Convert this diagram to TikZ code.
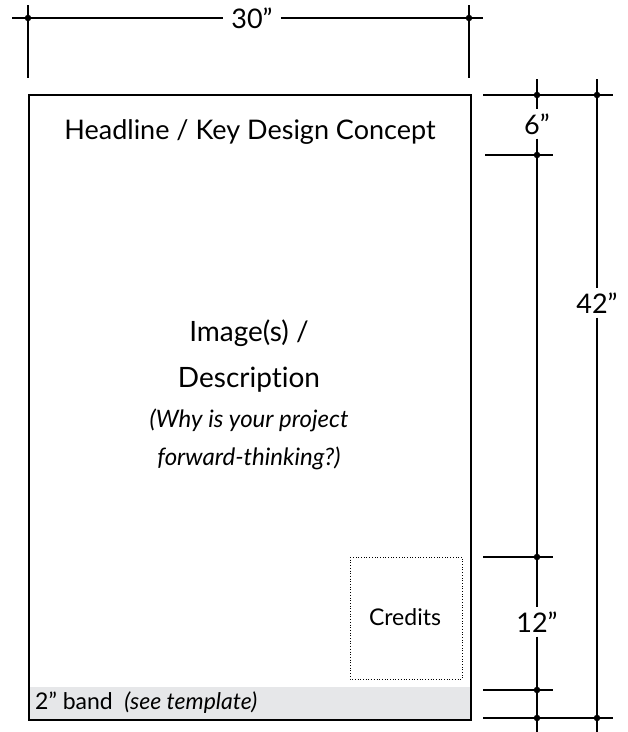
\documentclass[tikz,border=0pt]{standalone}
\usepackage{fontspec}
\setmainfont{Lato}[Ligatures={TeX,NoCommon}]
\usepackage{tikz}
\usetikzlibrary{calc}

\definecolor{bandgray}{RGB}{230,231,233}

\tikzset{
	dimline/.style={line width=1.3pt},
	dimdot/.style={circle,fill=black,inner sep=0pt,minimum size=6.5pt},
	dimlabel/.style={font=\fontsize{27}{27}\selectfont,inner xsep=8pt,inner ysep=4pt,fill=white},
	postertext/.style={font=\fontsize{#1}{#1}\selectfont,inner sep=0pt},
}

\begin{document}
\begin{tikzpicture}[x=1pt,y=-1pt]
		\useasboundingbox (0,0) rectangle (628,732);
		
		% poster sheet
		\fill[bandgray] (29,687) rectangle (471,720);
		\draw[line width=2pt] (29,95) rectangle (471,720);
		\draw[dotted,line width=0.7pt] (350,557) rectangle (462,679);
		
		\node[postertext=27] (head) at (250,132) {Headline / Key Design Concept};
		\node[postertext=28] (img) at (249,333) {Image(s) /};
		\node[postertext=28] (desc) at (249,380) {Description};
		\node[postertext=24] (why) at (249,420) {\itshape (Why is your project};
		\node[postertext=24] (fwd) at (249,458) {\itshape forward-thinking?)};
		\node[postertext=23] (cred) at (405,617) {Credits};
		\node[postertext=23,anchor=west] (band) at (35,703) {2'' band\enspace\itshape (see template)};
		
		% width
		\coordinate (wl) at (12,18);
		\coordinate (wr) at (483,18);
		\node[dimdot] (wa) at (28,18) {};
		\node[dimdot] (wb) at (469,18) {};
		\node[dimlabel] (w) at (252,18) {30''};
		\draw[dimline] (wl) -- (w) -- (wr);
		\draw[dimline] (28,5) -- (28,78);
		\draw[dimline] (469,5) -- (469,78);
		
		% heights
		\node[dimdot] (h0) at (537,95) {};
		\node[dimdot] (h1) at (537,155) {};
		\node[dimdot] (h2) at (537,557) {};
		\node[dimdot] (h3) at (537,690) {};
		\node[dimdot] (h4) at (537,718) {};
		\node[dimdot] (t0) at (597,95) {};
		\node[dimdot] (t4) at (597,718) {};
		\draw[dimline] (483,95) -- (613,95);
		\draw[dimline] (485,155) -- (553,155);
		\draw[dimline] (483,557) -- (553,557);
		\draw[dimline] (483,690) -- (553,690);
		\draw[dimline] (483,718) -- (613,718);
		
		\node[dimlabel] (six) at (537,124) {6''};
		\node[dimlabel] (twelve) at (537,622) {12''};
		\node[dimlabel] (total) at (597,303) {42''};
		
		\draw[dimline] (537,79) -- (six);
		\draw[line width=2pt] (six) -- (twelve);
		\draw[line width=2pt] (twelve) -- (537,732);
		\draw[line width=1.6pt] (597,79) -- (total) -- (597,732);
	\end{tikzpicture}
\end{document}
